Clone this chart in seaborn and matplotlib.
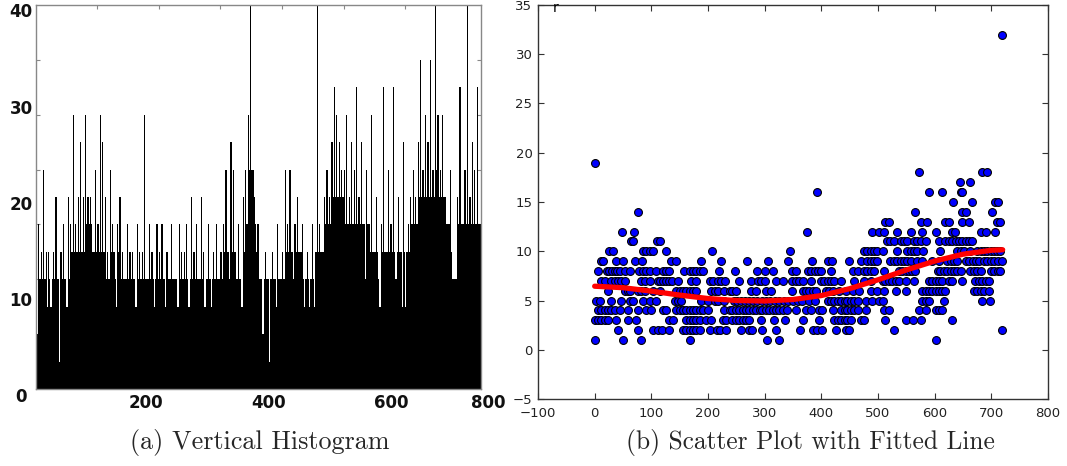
import numpy as np
import pandas as pd
import matplotlib
matplotlib.use("Agg")
import matplotlib.pyplot as plt
import seaborn as sns

# ---------------- (a) histogram: bar heights (count levels) per 2-unit bin ----------------
hist_bin_width = 2
hist_levels = [
    2, 2, 6, 4, 5, 4, 8, 4, 5, 3,      5, 4, 3, 4, 5, 4, 7, 4, 4, 1,
    5, 4, 6, 4, 4, 3, 7, 4, 6, 5,      10, 5, 6, 5, 7, 5, 9, 5, 7, 5,
    10, 6, 7, 6, 7, 6, 5, 5, 8, 5,     6, 5, 10, 5, 9, 5, 7, 4, 5, 4,
    8, 5, 6, 5, 4, 3, 6, 5, 7, 4,      5, 4, 4, 4, 6, 4, 5, 4, 5, 4,
    4, 3, 6, 4, 5, 4, 5, 4, 10, 4,     4, 4, 6, 4, 5, 4, 3, 4, 6, 4,
    5, 4, 6, 4, 4, 3, 5, 4, 4, 4,      6, 4, 4, 4, 4, 3, 6, 4, 5, 4,
    5, 4, 6, 4, 3, 4, 7, 4, 5, 4,      6, 4, 4, 4, 7, 4, 5, 3, 4, 4,
    6, 4, 3, 4, 5, 4, 6, 4, 4, 4,      5, 4, 6, 5, 8, 5, 5, 4, 9, 5,
    8, 5, 5, 4, 6, 4, 4, 3, 7, 5,      8, 6, 10, 8, 14, 8, 8, 7, 6, 5,
    6, 4, 4, 4, 2, 4, 5, 4, 4, 1,      4, 4, 5, 4, 4, 3, 6, 4, 4, 4,
    5, 4, 8, 5, 6, 5, 8, 5, 5, 4,      6, 5, 7, 5, 5, 5, 6, 4, 3, 4,
    5, 4, 3, 4, 6, 4, 3, 5, 14, 5,     6, 5, 5, 5, 7, 6, 8, 6, 7, 6,
    9, 7, 11, 7, 10, 7, 9, 7, 8, 7,    8, 6, 10, 6, 7, 6, 9, 6, 8, 6,
    11, 6, 7, 6, 9, 6, 6, 4, 8, 6,     6, 5, 10, 5, 5, 5, 7, 5, 4, 3,
    6, 5, 11, 5, 5, 5, 8, 5, 6, 5,     11, 5, 4, 5, 7, 5, 5, 3, 9, 5,
    3, 5, 6, 5, 7, 6, 8, 6, 7, 6,      9, 7, 12, 7, 8, 7, 10, 7, 9, 7,
    12, 7, 8, 7, 14, 8, 10, 7, 8, 7,   10, 7, 7, 6, 6, 6, 8, 5, 4, 4,
    4, 4, 7, 6, 11, 6, 6, 6, 8, 6,     14, 6, 7, 6, 9, 6, 8, 6, 11, 6,
    6, 6,
]
hist_ytick_labels = ["0", "10", "20", "30", "40"]
hist_xtick_labels = ["200", "400", "600", "800"]

# ---------------- (b) scatter: x positions of the points at each integer y ----------------
x_at_1 = [1, 50, 82, 169, 304, 326, 602]
x_at_2 = [41, 76, 103, 112, 118, 132, 156, 162, 168, 173, 179, 185, 203, 215, 221, 232,
          258, 272, 278, 296, 320, 362, 386, 393, 402, 426, 443, 449, 528, 719]
x_at_3 = [0, 6, 12, 18, 23, 38, 59, 73, 132, 138, 162, 168, 173, 179, 185, 197, 206, 226,
          232, 243, 249, 255, 261, 267, 273, 293, 317, 335, 367, 396, 423, 429, 435, 441,
          446, 452, 470, 476, 513, 549, 562, 575, 631]
x_at_4 = [6, 12, 18, 23, 29, 35, 45, 58, 76, 91, 100, 120, 126, 144, 150, 156, 162, 168,
          173, 179, 185, 191, 200, 229, 238, 243, 249, 255, 261, 267, 273, 279, 285, 291,
          296, 302, 308, 314, 320, 326, 332, 340, 355, 373, 382, 396, 402, 420, 435, 441,
          446, 452, 458, 464, 479, 510, 519, 572, 584, 602, 608, 613]
x_at_5 = [3, 9, 29, 47, 62, 68, 85, 97, 109, 142, 147, 153, 188, 200, 212, 218, 229, 245,
          252, 258, 265, 272, 280, 287, 295, 302, 310, 318, 326, 334, 342, 350, 358, 366,
          379, 388, 411, 417, 423, 429, 435, 441, 446, 452, 458, 464, 478, 490, 502, 508,
          578, 584, 590, 616, 684, 697]
x_at_6 = [23, 53, 58, 63, 76, 82, 88, 103, 115, 144, 150, 156, 162, 168, 173, 179, 206,
          212, 218, 229, 238, 243, 249, 276, 285, 302, 311, 349, 367, 373, 379, 385, 390,
          408, 414, 420, 432, 443, 455, 467, 487, 499, 510, 531, 549, 578, 584, 590, 596,
          602, 608, 613, 619, 669, 675, 681, 687, 696]
x_at_7 = [12, 18, 29, 35, 41, 47, 53, 82, 88, 97, 112, 116, 120, 126, 131, 136, 147, 170,
          179, 203, 209, 218, 223, 230, 255, 276, 288, 293, 301, 320, 332, 349, 355, 361,
          367, 382, 399, 405, 411, 417, 423, 435, 458, 475, 487, 508, 513, 519, 525, 531,
          537, 549, 563, 590, 596, 602, 608, 613, 625, 631, 649, 672, 678, 684, 690, 696]
x_at_8 = [5, 21, 25, 31, 35, 40, 45, 53, 62, 79, 85, 91, 97, 108, 120, 125, 132, 157, 168,
          173, 179, 185, 191, 219, 248, 286, 301, 314, 349, 355, 376, 382, 388, 394, 399,
          417, 455, 464, 475, 481, 487, 493, 510, 537, 543, 549, 555, 560, 566, 605, 610,
          616, 622, 628, 634, 640, 646, 663, 669, 675, 681, 699, 705, 711, 716]
x_at_9 = [12, 15, 38, 50, 72, 84, 135, 144, 188, 223, 269, 305, 342, 383, 411, 419, 448,
          470, 481, 487, 493, 499, 522, 528, 534, 540, 546, 552, 558, 569, 578, 596, 608,
          622, 628, 634, 640, 655, 661, 667, 673, 678, 687, 693, 699, 705, 711, 719]
x_at_10 = [26, 32, 85, 91, 97, 103, 125, 207, 345, 475, 481, 487, 493, 499, 508, 534, 552,
           558, 563, 569, 580, 610, 640, 646, 652, 663, 675, 681, 687, 693, 699, 705, 710, 716]
x_at_11 = [64, 67, 110, 115, 516, 522, 528, 540, 546, 552, 563, 569, 575, 584, 608, 619,
           625, 631, 637, 643, 649, 655, 660, 666]
x_at_12 = [49, 69, 375, 490, 502, 510, 534, 559, 577, 603, 631, 635, 681, 690, 706]
x_at_13 = [513, 519, 575, 587, 619, 625, 649, 660, 710, 715]
x_at_14 = [76, 566, 649, 655, 702]
x_at_15 = [632, 665, 706, 712]
x_at_16 = [393, 590, 613, 646, 649]
x_at_17 = [644, 662]
x_at_18 = [572, 684, 693]
x_at_19 = [0]
x_at_32 = [719]

# fitted curve
fit_x = [0, 50, 100, 150, 200, 250, 300, 350, 400, 450, 500, 550, 600, 650, 700, 720]
fit_y = [6.45, 6.3, 5.95, 5.55, 5.2, 5.0, 4.95, 5.1, 5.5, 6.2, 7.1, 8.1, 9.0, 9.7, 10.1, 10.15]

# ---------------- build tables ----------------
rows = {1: x_at_1, 2: x_at_2, 3: x_at_3, 4: x_at_4, 5: x_at_5, 6: x_at_6, 7: x_at_7,
        8: x_at_8, 9: x_at_9, 10: x_at_10, 11: x_at_11, 12: x_at_12, 13: x_at_13,
        14: x_at_14, 15: x_at_15, 16: x_at_16, 17: x_at_17, 18: x_at_18, 19: x_at_19,
        32: x_at_32}
scatter_df = pd.DataFrame([(x, y) for y, xs in rows.items() for x in xs], columns=["x", "y"])
hist_centers = np.arange(len(hist_levels)) * hist_bin_width + hist_bin_width / 2
hist_df = pd.DataFrame({"pos": hist_centers, "level": hist_levels})
fit_df = pd.DataFrame({"x": fit_x, "y": fit_y})

sns.set_theme(style="white")
plt.rcParams["font.family"] = ["DejaVu Sans"]

W, H = 1067, 466
fig = plt.figure(figsize=(W / 100, H / 100), dpi=100)
ax1 = fig.add_axes([35.7 / W, 1 - 389 / H, 445.3 / W, 384 / H])
ax2 = fig.add_axes([538 / W, 1 - 399 / H, 510 / W, 394 / H])

# ---------------- (a) ----------------
sns.histplot(data=hist_df, x="pos", weights="level", binwidth=hist_bin_width,
             binrange=(0, len(hist_levels) * hist_bin_width), color="black",
             alpha=1, linewidth=0, ax=ax1)
ax1.set_xlim(0, 723)
ax1.set_ylim(0, 14)
ax1.set_xlabel("")
ax1.set_ylabel("")
ax1.set_xticks(range(100, 800, 100))
ax1.set_yticks(range(2, 14, 2))
ax1.tick_params(direction="in", length=3, width=0.8, color="#888888",
                top=True, right=True, bottom=True, left=True,
                labelbottom=False, labelleft=False)
for s in ax1.spines.values():
    s.set_color("#888888")
    s.set_linewidth(1.0)
# tick-label text, placed where the reference shows it
ylab_px = [397, 301.5, 205, 108.5, 12]
for lab, py in zip(hist_ytick_labels, ylab_px):
    fig.text(21 / W, 1 - py / H, lab, ha="center", va="center",
             fontsize=12, fontweight="bold", color="#111111")
xlab_px = [146, 269, 391, 488]
for lab, px in zip(hist_xtick_labels, xlab_px):
    fig.text(px / W, 1 - 403 / H, lab, ha="center", va="center",
             fontsize=12, fontweight="bold", color="#111111")

# ---------------- (b) ----------------
sns.scatterplot(data=scatter_df, x="x", y="y", color="#0000ff", edgecolor="black",
                s=32, linewidth=0.8, ax=ax2, zorder=2)
sns.lineplot(data=fit_df, x="x", y="y", color="red", linewidth=3.8, ax=ax2, zorder=3)
ax2.set_xlim(-100, 800)
ax2.set_ylim(-5, 35)
ax2.set_xticks(range(-100, 801, 100))
ax2.set_yticks(range(-5, 36, 5))
ax2.set_xlabel("")
ax2.set_ylabel("")
ax2.tick_params(direction="in", length=4, width=0.8, color="#333333",
                top=True, right=True, bottom=True, left=True,
                labelsize=9.5, labelcolor="#222222")
ax2.tick_params(axis="x", pad=6)
ax2.tick_params(axis="y", pad=4)
for s in ax2.spines.values():
    s.set_color("#333333")
    s.set_linewidth(1.0)
ax2.text(0.035, 0.992, "r", transform=ax2.transAxes, ha="center", va="center",
         fontsize=10, color="black")

# ---------------- captions ----------------
fig.text(260 / W, 1 - 443 / H, "(a) Vertical Histogram", ha="center", va="center",
         family="cmr10", fontsize=18.8)
fig.text(810 / W, 1 - 443 / H, "(b) Scatter Plot with Fitted Line", ha="center",
         va="center", family="cmr10", fontsize=18.3)

fig.savefig("out.png", dpi=100)
